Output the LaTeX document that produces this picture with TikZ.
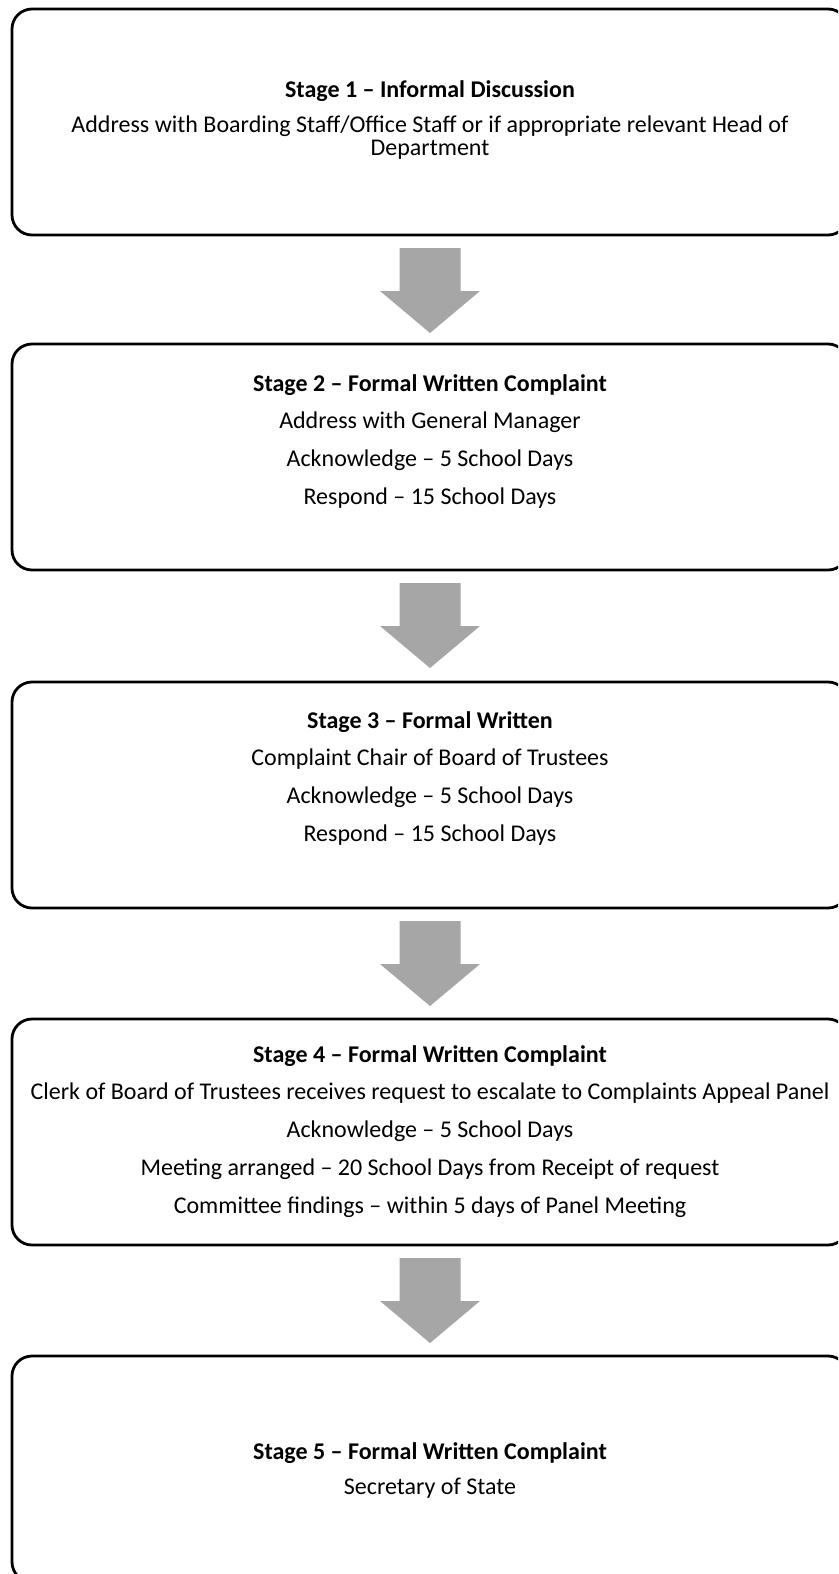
\documentclass[tikz,border=0pt]{standalone}
\usepackage{fontspec}
\setmainfont{Carlito}
\usetikzlibrary{calc}
\definecolor{arrowgray}{RGB}{166,166,166}
\begin{document}
\begin{tikzpicture}[x=1pt,y=1pt,
  stagebox/.style={draw=black, line width=2.8pt, rounded corners=20pt, fill=white,
    minimum width=836pt, minimum height=226pt, inner sep=0pt, outer sep=0pt},
  stagetext/.style={anchor=north, align=center, inner sep=0pt,
    font=\fontsize{24}{24}\selectfont},
  flowarrow/.style={fill=arrowgray, draw=none}]
\useasboundingbox (0,0) rectangle (838,-1574);
\clip (0,0) rectangle (838,-1574);
\fill[white] (0,0) rectangle (838,-1574);

\node[stagebox] (b1) at (430,-122) {};
\node[stagebox] (b2) at (430,-457) {};
\node[stagebox] (b3) at (430,-795) {};
\node[stagebox] (b4) at (430,-1132) {};
\node[stagebox] (b5) at (430,-1469) {};

\node[stagetext, font=\fontsize{24}{23}\selectfont] (t1) at (430,-79) {\rule{0pt}{18pt}\textbf{Stage 1 – Informal Discussion}\\[12.5pt]
  Address with Boarding Staff/Office Staff or if appropriate relevant Head of\\
  Department};
\node[stagetext] (t2) at (430,-373) {\rule{0pt}{18pt}\textbf{Stage 2 – Formal Written Complaint}\\[13.7pt]
  Address with General Manager\\[13.7pt]
  Acknowledge – 5 School Days\\[13.7pt]
  Respond – 15 School Days};
\node[stagetext] (t3) at (430,-710) {\rule{0pt}{18pt}\textbf{Stage 3 – Formal Written}\\[13.7pt]
  Complaint Chair of Board of Trustees\\[13.7pt]
  Acknowledge – 5 School Days\\[13.7pt]
  Respond – 15 School Days};
\node[stagetext] (t4) at (430,-1044) {\rule{0pt}{18pt}\textbf{Stage 4 – Formal Written Complaint}\\[13.7pt]
  Clerk of Board of Trustees receives request to escalate to Complaints Appeal Panel\\[13.7pt]
  Acknowledge – 5 School Days\\[13.7pt]
  Meeting arranged – 20 School Days from Receipt of request\\[13.7pt]
  Committee findings – within 5 days of Panel Meeting};
\node[stagetext] (t5) at (430,-1441.5) {\rule{0pt}{18pt}\textbf{Stage 5 – Formal Written Complaint}\\[11pt]
  Secretary of State};

\foreach \a in {b1,b2,b3,b4}{
  \fill[flowarrow] ($(\a.south)+(-30.5,-13)$) -- ($(\a.south)+(30.5,-13)$)
    -- ($(\a.south)+(30.5,-56)$) -- ($(\a.south)+(50,-56)$)
    -- ($(\a.south)+(0,-98)$) -- ($(\a.south)+(-50,-56)$)
    -- ($(\a.south)+(-30.5,-56)$) -- cycle;
}
\end{tikzpicture}
\end{document}
